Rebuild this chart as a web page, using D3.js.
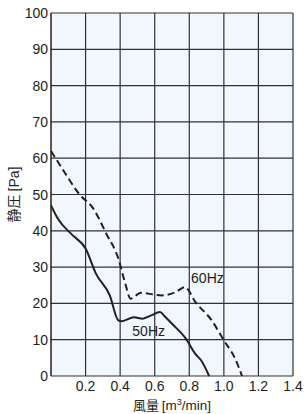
<!DOCTYPE html>
<html>
<head>
<meta charset="utf-8">
<script src="https://cdn.jsdelivr.net/npm/d3@7"></script>
<style>
  body { margin: 0; background: #fff; }
  text { font-family: "Liberation Sans", Arial, sans-serif; fill: #231f20; }
  .cjk { font-family: "Noto Sans CJK JP", sans-serif; }
</style>
</head>
<body>
<div class="chart"></div>
<script>
// x ticks (m3/min) and y ticks (Pa)
var xTicks = [0.2, 0.4, 0.6, 0.8, 1.0, 1.2, 1.4];
var yTicks = [0, 10, 20, 30, 40, 50, 60, 70, 80, 90, 100];

// 50Hz curve
var flow50 = [0, 0.04, 0.12, 0.2, 0.26, 0.34, 0.39, 0.41, 0.48, 0.53, 0.58, 0.63, 0.66, 0.7, 0.78, 0.835, 0.87, 0.915];
var pres50 = [47, 43.3, 39, 35.1, 28.2, 22.2, 15.3, 15.1, 16.2, 15.8, 16.7, 17.6, 16.3, 14.4, 10.3, 6.1, 4.2, 0];

// 60Hz curve
var flow60 = [0, 0.08, 0.16, 0.245, 0.32, 0.39, 0.43, 0.46, 0.52, 0.6, 0.64, 0.72, 0.775, 0.835, 0.93, 1.0, 1.065, 1.105];
var pres60 = [62, 56, 50.3, 46.1, 39.2, 32.3, 25.4, 21.3, 22.9, 22.4, 22.2, 23.1, 24.5, 20.4, 15.3, 9.8, 4.8, 0];

var width = 304, height = 414;
var margin = { left: 51, right: 11, top: 13, bottom: 38 };

var svg = d3.select('.chart').append('svg')
  .attr('width', width)
  .attr('height', height);

var x = d3.scaleLinear().domain([0, 1.4]).range([margin.left, width - margin.right]);
var y = d3.scaleLinear().domain([0, 100]).range([height - margin.bottom, margin.top]);

// plot background
svg.append('rect')
  .attr('x', x(0)).attr('y', y(100))
  .attr('width', x(1.4) - x(0)).attr('height', y(0) - y(100))
  .style('fill', '#f1f7fd');

// grid
svg.append('g').selectAll('line').data(xTicks).enter().append('line')
  .attr('x1', function(d) { return x(d); }).attr('x2', function(d) { return x(d); })
  .attr('y1', y(0)).attr('y2', y(100))
  .style('stroke', '#333').style('stroke-width', 1.2);

svg.append('g').selectAll('line').data(yTicks).enter().append('line')
  .attr('x1', x(0)).attr('x2', x(1.4))
  .attr('y1', function(d) { return y(d); }).attr('y2', function(d) { return y(d); })
  .style('stroke', '#333').style('stroke-width', 1.2);

// left axis line
svg.append('line')
  .attr('x1', x(0)).attr('x2', x(0)).attr('y1', y(0)).attr('y2', y(100))
  .style('stroke', '#231f20').style('stroke-width', 1.5);

// tick labels
svg.append('g').selectAll('text').data(yTicks).enter().append('text')
  .attr('x', x(0) - 3)
  .attr('y', function(d) { return y(d); })
  .attr('dy', '0.36em')
  .attr('text-anchor', 'end')
  .style('font-size', '14px')
  .text(function(d) { return d; });

svg.append('g').selectAll('text').data(xTicks).enter().append('text')
  .attr('x', function(d) { return x(d); })
  .attr('y', y(0) + 15)
  .attr('text-anchor', 'middle')
  .style('font-size', '14px')
  .text(function(d) { return d.toFixed(1); });

// axis titles
var xt = svg.append('text')
  .attr('x', (x(0) + x(1.4)) / 2)
  .attr('y', height - 4)
  .attr('text-anchor', 'middle')
  .style('font-size', '13.5px');
xt.append('tspan').attr('class', 'cjk').style('font-size', '13px').text('風量 ');
xt.append('tspan').text('[m');
xt.append('tspan').attr('dy', -5).style('font-size', '9px').text('3');
xt.append('tspan').attr('dy', 5).text('/min]');

var yt = svg.append('text')
  .attr('transform', 'translate(19,' + (y(0) + y(100)) / 2 + ') rotate(-90)')
  .attr('text-anchor', 'middle')
  .style('font-size', '14px');
yt.append('tspan').attr('class', 'cjk').style('font-size', '14px').text('静圧 ');
yt.append('tspan').text('[Pa]');

// curves
var line = d3.line()
  .x(function(d) { return x(d[0]); })
  .y(function(d) { return y(d[1]); })
  .curve(d3.curveMonotoneX);

svg.append('path')
  .datum(d3.zip(flow50, pres50))
  .attr('d', line)
  .style('fill', 'none').style('stroke', '#231f20').style('stroke-width', 2);

svg.append('path')
  .datum(d3.zip(flow60, pres60))
  .attr('d', line)
  .style('fill', 'none').style('stroke', '#231f20').style('stroke-width', 2)
  .style('stroke-dasharray', '7,4');

// series labels
svg.append('text').attr('x', x(0.905)).attr('y', y(25.6)).attr('text-anchor', 'middle')
  .style('font-size', '14px').text('60Hz');
svg.append('text').attr('x', x(0.565)).attr('y', y(11)).attr('text-anchor', 'middle')
  .style('font-size', '14px').text('50Hz');
</script>
</body>
</html>
